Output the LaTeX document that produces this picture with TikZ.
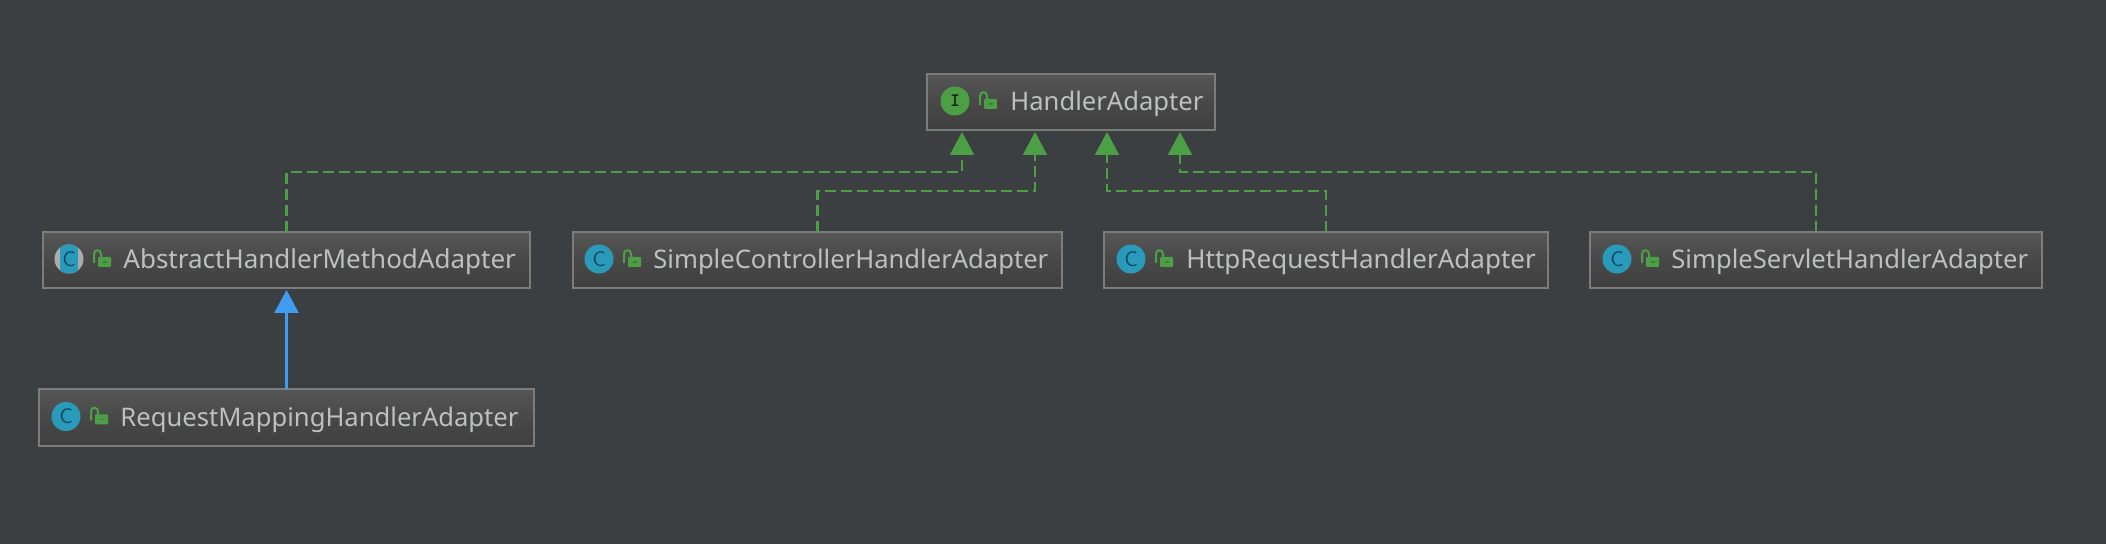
\documentclass[tikz,border=0pt]{standalone}
\usepackage{fontspec}
\setmainfont{Noto Sans}
\usetikzlibrary{arrows.meta,calc}
\definecolor{bgc}{HTML}{3C3F41}
\definecolor{edgec}{HTML}{7B7D7D}
\definecolor{boxtop}{HTML}{565656}
\definecolor{boxbot}{HTML}{3F3F3F}
\definecolor{greenc}{HTML}{4C9F45}
\definecolor{bluec}{HTML}{419BF0}
\definecolor{tealc}{HTML}{2A9ABB}
\definecolor{inkc}{HTML}{0E4A68}
\definecolor{txtc}{HTML}{BEC0C0}
\definecolor{greyc}{HTML}{A9ABAD}
\tikzset{
  x=0.5pt,y=-0.5pt,
  classbox/.style={draw=edgec,line width=1.3pt,top color=boxtop,bottom color=boxbot,middle color=boxbot!60!boxtop,shading angle=0,inner sep=0pt,outer sep=0pt,rectangle},
  lbl/.style={anchor=base west,inner sep=0pt,text=txtc,font=\fontsize{12.8}{15}\selectfont},
  lblwide/.style={lbl,font=\fontsize{13}{15}\selectfont},
  iconc/.style={circle,fill=tealc,minimum size=14.5pt,inner sep=0pt,text=inkc,font=\fontsize{10.5}{10.5}\selectfont\sffamily},
  iconi/.style={circle,fill=greenc,minimum size=14.5pt,inner sep=0pt,text=black!80!greenc,font=\fontsize{9.5}{9.5}\selectfont\ttfamily\bfseries},
  realize/.style={draw=greenc,line width=1.1pt,dash pattern=on 5.5pt off 2.5pt,-{Triangle[length=11.5pt,width=12pt,fill=greenc]}},
  extend/.style={draw=bluec,line width=1.2pt,-{Triangle[length=11.5pt,width=12pt,fill=bluec]}},
  pics/lockicon/.style={code={
    \draw[greenc,line width=1pt] (0,4) -- (0,-5) .. controls (0,-10) and (7,-10) .. (7,-5) -- (7,-1);
    \fill[greenc,rounded corners=0.5pt] (4,-2) rectangle (17,8);
    \fill[bgc!40!greenc] (9,2.5) rectangle (12.5,4);
  }}
}
\newcommand{\classnode}[7]{%
  \node[classbox,minimum width=#4pt/2-#2pt/2,minimum height=#5pt/2-#3pt/2,anchor=north west] (#1) at (#2,#3) {};
  \coordinate (#1-icon) at (#6,{(#3+#5)/2-1});
  \coordinate (#1-text) at (#7,{(#3+#5)/2+9});
}
\begin{document}
\begin{tikzpicture}
\useasboundingbox[fill=bgc] (0,0) rectangle (2106,544);
\classnode{ha}{927}{74}{1215}{130}{955}{1010}
\classnode{abs}{43}{232}{530}{288}{69}{123}
\classnode{ctl}{573}{232}{1062}{288}{599}{653}
\classnode{htp}{1104}{232}{1548}{288}{1131}{1186}
\classnode{svl}{1590}{232}{2042}{288}{1617}{1671}
\classnode{req}{39}{389}{534}{446}{66}{120}

\node[lbl] (haL) at (ha-text) {HandlerAdapter};
\node[lblwide] (absL) at (abs-text) {AbstractHandlerMethodAdapter};
\node[lbl] (ctlL) at (ctl-text) {SimpleControllerHandlerAdapter};
\node[lblwide] (htpL) at (htp-text) {HttpRequestHandlerAdapter};
\node[lbl] (svlL) at (svl-text) {SimpleServletHandlerAdapter};
\node[lbl] (reqL) at (req-text) {RequestMappingHandlerAdapter};

\node[iconi] (haI) at (ha-icon) {I};
\fill[greyc] (abs-icon) circle[radius=14.5];
\begin{scope}
  \clip (abs-icon) circle[radius=14.5];
  \fill[tealc] ($(abs-icon)+(-9,-15)$) rectangle ($(abs-icon)+(9,15)$);
\end{scope}
\node[text=inkc,inner sep=0pt,font=\fontsize{10.5}{10.5}\selectfont\sffamily] (absI) at (abs-icon) {C};
\node[iconc] (ctlI) at (ctl-icon) {C};
\node[iconc] (htpI) at (htp-icon) {C};
\node[iconc] (svlI) at (svl-icon) {C};
\node[iconc] (reqI) at (req-icon) {C};

\foreach \n in {ha,abs,ctl,htp,svl,req}{
  \pic at ($(\n-icon)+(25,0)$) {lockicon};
}

\coordinate (t1) at ($(ha.south west)+(35,2)$);
\coordinate (t2) at ($(ha.south west)+(108,2)$);
\coordinate (t3) at ($(ha.south west)+(180,2)$);
\coordinate (t4) at ($(ha.south west)+(253,2)$);
\coordinate (y1) at (0,172);
\coordinate (y2) at (0,191);

\draw[realize] (abs.north) |- (t1 |- y1) -- (t1);
\draw[realize] (ctl.north) |- (t2 |- y2) -- (t2);
\draw[realize] (htp.north) |- (t3 |- y2) -- (t3);
\draw[realize] (svl.north) |- (t4 |- y1) -- (t4);
\draw[extend] (req.north) -- ($(abs.south)+(0,2)$);
\end{tikzpicture}
\end{document}
